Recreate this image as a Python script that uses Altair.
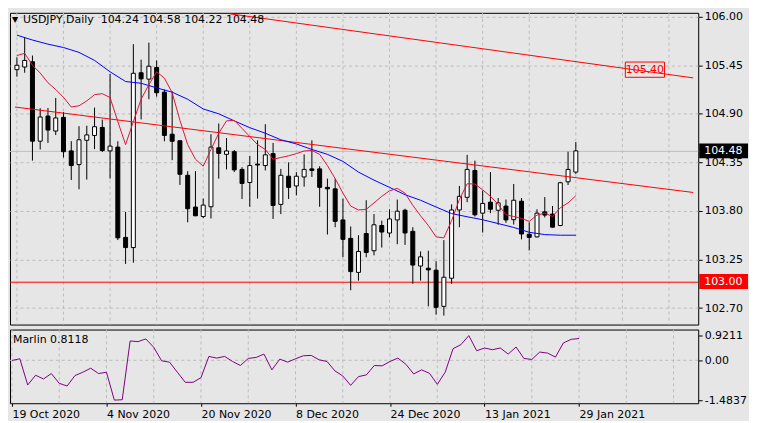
import altair as alt
import pandas as pd

# ---------------- data ----------------
opens = [105.40, 105.43, 105.49, 104.59, 104.875, 104.705, 104.86, 104.48, 104.325, 104.60,
         104.655, 104.746, 104.48, 104.523, 103.50, 103.385, 105.365, 105.293, 105.425, 105.145,
         104.669, 104.595, 104.204, 103.844, 103.737, 103.847, 104.515, 104.441, 104.471, 104.27,
         104.122, 104.33, 104.314, 104.449, 103.874, 104.193, 104.083, 104.185, 104.276, 104.276,
         104.067, 104.05, 103.698, 103.489, 103.104, 103.544, 103.349, 103.635, 103.55, 103.698,
         103.808, 103.569, 103.176, 103.151, 103.129, 102.719, 103.038, 103.811, 103.954, 104.259,
         103.775, 103.899, 103.808, 103.855, 103.701, 103.91, 103.536, 103.506, 103.789, 103.764,
         103.635, 104.13, 104.24]
highs = [105.54, 105.76, 105.56, 104.963, 104.966, 105.08, 104.92, 104.59, 104.76, 104.765,
         104.97, 104.834, 105.35, 104.589, 103.79, 105.689, 105.513, 105.706, 105.505, 105.175,
         105.156, 104.60, 104.251, 104.251, 103.94, 104.669, 104.79, 104.625, 104.49, 104.295,
         104.424, 104.60, 104.782, 104.57, 104.276, 104.35, 104.24, 104.441, 104.60, 104.306,
         104.166, 104.166, 103.94, 103.624, 103.525, 103.921, 103.764, 103.69, 103.819, 103.929,
         103.825, 103.616, 103.341, 103.349, 103.231, 103.47, 103.874, 104.083, 104.435, 104.369,
         104.031, 104.24, 103.946, 103.929, 104.105, 103.946, 103.671, 103.819, 103.957, 103.855,
         104.13, 104.471, 104.58]
lows = [105.32, 105.365, 104.37, 104.496, 104.57, 104.66, 104.405, 104.15, 104.045, 104.155,
        104.50, 104.468, 104.166, 103.47, 103.20, 103.214, 104.837, 105.065, 105.095, 104.589,
        104.375, 104.094, 103.671, 103.74, 103.72, 103.715, 104.166, 104.27, 104.24, 103.935,
        103.847, 103.94, 104.259, 103.709, 103.764, 103.935, 103.976, 104.075, 104.185, 103.847,
        103.533, 103.616, 103.275, 102.901, 103.011, 103.275, 103.297, 103.385, 103.50, 103.423,
        103.415, 102.975, 103.011, 102.719, 102.626, 102.615, 102.975, 103.616, 103.899, 103.737,
        103.555, 103.775, 103.643, 103.665, 103.646, 103.478, 103.352, 103.50, 103.726, 103.61,
        103.627, 104.094, 104.22]
closes = [105.45, 105.505, 104.59, 104.864, 104.716, 104.853, 104.471, 104.314, 104.606, 104.661,
          104.754, 104.485, 104.534, 103.495, 103.385, 105.359, 105.296, 105.439, 105.139, 104.655,
          104.589, 104.215, 103.825, 103.745, 103.866, 104.523, 104.452, 104.479, 104.265, 104.111,
          104.314, 104.32, 104.435, 103.862, 104.204, 104.067, 104.193, 104.27, 104.259, 104.067,
          104.05, 103.682, 103.478, 103.113, 103.341, 103.33, 103.643, 103.561, 103.709, 103.797,
          103.55, 103.187, 103.28, 103.132, 102.708, 103.049, 103.811, 103.965, 104.27, 103.756,
          103.885, 103.819, 103.891, 103.698, 103.921, 103.539, 103.50, 103.775, 103.753, 103.616,
          104.119, 104.27, 104.48]
ma_red = [105.56, 105.585, 105.45, 105.362, 105.252, 105.175, 105.087, 104.977, 104.991, 105.046,
          105.117, 105.128, 105.084, 104.812, 104.551, 104.812, 105.065, 105.23, 105.376, 105.304,
          105.139, 104.826, 104.551, 104.386, 104.306, 104.496, 104.68, 104.82, 104.826, 104.735,
          104.643, 104.551, 104.496, 104.386, 104.405, 104.424, 104.449, 104.479, 104.485, 104.441,
          104.314, 104.166, 104.001, 103.855, 103.811, 103.818, 103.891, 103.965, 104.028, 104.056,
          104.001, 103.863, 103.745, 103.635, 103.506, 103.495, 103.69, 103.929, 104.108, 104.105,
          104.039, 103.965, 103.874, 103.756, 103.737, 103.715, 103.682, 103.753, 103.775, 103.737,
          103.836, 103.891, 103.972]
blue_idx = [0, 2, 4, 6, 8, 10, 12, 14, 16, 18, 20, 22, 24, 26, 28, 30, 32, 34, 36,
            38, 40, 42, 44, 46, 48, 50, 52, 54, 56, 58, 60, 62, 64, 66, 68, 70, 72]
blue_val = [105.791, 105.736, 105.689, 105.651, 105.596, 105.505, 105.376, 105.266, 105.246,
            105.194, 105.145, 105.065, 104.955, 104.90, 104.82, 104.743, 104.68, 104.606, 104.559,
            104.496, 104.441, 104.361, 104.24, 104.149, 104.067, 103.984, 103.921, 103.844, 103.77,
            103.734, 103.70, 103.657, 103.613, 103.558, 103.532, 103.525, 103.525]
marlin = [-0.006, 0.057, -0.920, -0.557, -0.695, -0.494, -0.857, -0.958, -0.569, -0.444,
          -0.294, -0.494, -0.444, -1.4837, -1.47, 0.721, 0.696, 0.796, 0.483, -0.018,
          -0.068, -0.444, -0.820, -0.820, -0.645, 0.145, 0.082, 0.145, -0.043, -0.194,
          0.069, 0.107, 0.232, -0.357, 0.044, -0.068, 0.057, 0.170, 0.182, 0.019,
          -0.043, -0.394, -0.582, -0.933, -0.607, -0.544, -0.194, -0.206, -0.043, 0.082,
          -0.144, -0.507, -0.357, -0.482, -0.895, -0.444, 0.433, 0.583, 0.9211, 0.357,
          0.458, 0.395, 0.458, 0.232, 0.495, 0.069, 0.032, 0.307, 0.270, 0.119,
          0.645, 0.783, 0.8118]
date_ticks = [0, 12, 24, 36, 48, 60, 72]
date_labels = ["19 Oct 2020", "4 Nov 2020", "20 Nov 2020", "8 Dec 2020",
               "24 Dec 2020", "13 Jan 2021", "29 Jan 2021"]
price_ticks = [106.00, 105.45, 104.90, 104.35, 103.80, 103.25, 102.70]
marlin_ticks = [0.9211, 0.0, -1.4837]
vgrid_idx = [0, 6, 12, 18, 24, 30, 36, 42, 48, 54, 60, 66, 72, 78, 84]
upper_trend_idx = [27.4, 87.125]
upper_trend_val = [106.033, 105.307]
lower_trend_idx = [-0.25, 87.125]
lower_trend_val = [104.977, 104.009]
support_level = 103.00
target_level = 105.40
target_idx = 80.9
symbol = "USDJPY,Daily"
indicator = "Marlin"

# ---------------- layout / style ----------------
W, H1, H2 = 691, 313, 74
FONT = "DejaVu Sans"
BG = "#e6e6e6"
GRID = "#bbbbbb"
xs = alt.Scale(domain=[-0.25, 87.125], nice=False, zero=False)
ys = alt.Scale(domain=[102.513, 106.044], nice=False, zero=False)
ms = alt.Scale(domain=[-1.60, 1.147], nice=False, zero=False)

yaxis = alt.Axis(orient="right", values=price_ticks, format=".2f", title=None, grid=True,
                 gridDash=[3, 3], gridColor=GRID, domain=False, ticks=True, tickSize=4,
                 tickColor="black", labelFont=FONT, labelFontSize=11, labelColor="black",
                 labelPadding=2, labelBound=False, labelFlush=False, labelOverlap=False)

date_expr = "''"
for t, l in reversed(list(zip(date_ticks, date_labels))):
    date_expr = f"datum.value == {t} ? '{l}' : ({date_expr})"
xaxis = alt.Axis(values=date_ticks, labelExpr=date_expr, title=None, grid=False, domain=False,
                 ticks=True, tickSize=3, tickColor="black", labelAlign="left", labelFont=FONT,
                 labelFontSize=11, labelColor="black", labelPadding=2, labelFlush=False,
                 labelBound=False, labelOverlap=False)
maxis = alt.Axis(orient="right", values=marlin_ticks,
                 labelExpr="datum.value == 0 ? '0.00' : '' + datum.value", title=None,
                 grid=False, domain=False, ticks=True, tickSize=4, tickColor="black",
                 labelFont=FONT, labelFontSize=11, labelColor="black", labelPadding=2,
                 labelBound=False, labelFlush=False, labelOverlap=False)


def Xm(f):
    return alt.X(f, type="quantitative", scale=xs, axis=None)


def Ym(f):
    return alt.Y(f, type="quantitative", scale=ys, axis=yaxis)


def Xs(f):
    return alt.X(f, type="quantitative", scale=xs, axis=xaxis)


def Ys(f):
    return alt.Y(f, type="quantitative", scale=ms, axis=maxis)


BOX = "M-1,-0.306L1,-0.306L1,0.306L-1,0.306Z"
BOX2 = "M-1,-0.389L1,-0.389L1,0.389L-1,0.389Z"

idx = list(range(len(closes)))
cdf = pd.DataFrame({"i": idx, "open": opens, "high": highs, "low": lows, "close": closes})
rdf = pd.DataFrame({"i": idx, "v": ma_red})
bdf = pd.DataFrame({"i": blue_idx, "v": blue_val})
tdf = pd.DataFrame({"i": upper_trend_idx + lower_trend_idx,
                    "v": upper_trend_val + lower_trend_val,
                    "g": ["u", "u", "l", "l"]})
gdf = pd.DataFrame({"i": vgrid_idx})
bid = closes[-1]
title_txt = f"{symbol}\u00a0\u00a0{opens[-1]:.2f} {highs[-1]:.2f} {lows[-1]:.2f} {closes[-1]:.2f}"

vgrid = alt.Chart(gdf).mark_rule(color=GRID, strokeDash=[3, 3], strokeWidth=1).encode(x=Xm("i"))
bidline = alt.Chart(pd.DataFrame({"v": [bid]})).mark_rule(
    color="#c0c0c0", strokeWidth=1, yOffset=0.5).encode(y=Ym("v"))
level = alt.Chart(pd.DataFrame({"v": [support_level]})).mark_rule(
    color="#ff0000", strokeWidth=1, yOffset=0.67).encode(y=Ym("v"))
wick = alt.Chart(cdf).mark_rule(color="black", strokeWidth=1).encode(x=Xm("i"), y=Ym("low"), y2="high")
body = alt.Chart(cdf).mark_bar(size=4, stroke="black", strokeWidth=1).encode(
    x=Xm("i"), y=Ym("open"), y2="close",
    fill=alt.condition("datum.close >= datum.open", alt.value("white"), alt.value("black")))
blue = alt.Chart(bdf).mark_line(color="#0000ff", strokeWidth=1).encode(x=Xm("i"), y=Ym("v"))
red = alt.Chart(rdf).mark_line(color="#dc143c", strokeWidth=1).encode(x=Xm("i"), y=Ym("v"))
trends = alt.Chart(tdf).mark_line(color="#ff0000", strokeWidth=1, clip=True).encode(
    x=Xm("i"), y=Ym("v"), detail="g:N")

tgt = pd.DataFrame({"i": [target_idx], "v": [target_level], "t": [f"{target_level:.2f}"]})
tgt_box = alt.Chart(tgt).mark_point(shape=BOX2, size=1545, filled=False, stroke="#ff0000",
                                    strokeWidth=1, opacity=1).encode(x=Xm("i"), y=Ym("v"))
tgt_text = alt.Chart(tgt).mark_text(font=FONT, fontSize=11, color="#ff0000", align="center",
                                    baseline="middle").encode(x=Xm("i"), y=Ym("v"), text="t:N")

sup = pd.DataFrame({"v": [support_level], "t": [f"{support_level:.2f}"]})
sup_box = alt.Chart(sup).mark_point(shape=BOX, size=49 ** 2, filled=True, color="#ff0000",
                                    opacity=1).encode(x=alt.value(W + 25.5), y=Ym("v"))
sup_text = alt.Chart(sup).mark_text(font=FONT, fontSize=11, color="white", align="left",
                                    baseline="middle").encode(x=alt.value(W + 6), y=Ym("v"), text="t:N")
bd = pd.DataFrame({"v": [bid], "t": [f"{bid:.2f}"]})
bid_box = alt.Chart(bd).mark_point(shape=BOX, size=49 ** 2, filled=True, color="black",
                                   opacity=1).encode(x=alt.value(W + 25.5), y=Ym("v"))
bid_text = alt.Chart(bd).mark_text(font=FONT, fontSize=11, color="white", align="left",
                                   baseline="middle").encode(x=alt.value(W + 6), y=Ym("v"), text="t:N")

title = alt.Chart(pd.DataFrame({"t": [title_txt]})).mark_text(
    font=FONT, fontSize=11, color="black", align="left", baseline="middle").encode(
    x=alt.value(13), y=alt.value(7), text="t:N")
tri = alt.Chart(pd.DataFrame({"t": ["\u25bc"]})).mark_text(
    font=FONT, fontSize=8, color="black", align="center", baseline="middle").encode(
    x=alt.value(5), y=alt.value(7), text="t:N")

main = alt.layer(vgrid, bidline, level, wick, body, trends, blue, red,
                 tgt_box, tgt_text, sup_box, sup_text, bid_box, bid_text, tri, title
                 ).properties(width=W, height=H1)

mdf = pd.DataFrame({"i": idx, "v": marlin})
sgrid = alt.Chart(gdf).mark_rule(color=GRID, strokeDash=[3, 3], strokeWidth=1).encode(x=Xs("i"))
zero = alt.Chart(pd.DataFrame({"v": [0.0]})).mark_rule(color=GRID, strokeDash=[3, 3], strokeWidth=1).encode(y=Ys("v"))
mline = alt.Chart(mdf).mark_line(color="#800080", strokeWidth=1).encode(x=Xs("i"), y=Ys("v"))
mtitle = alt.Chart(pd.DataFrame({"t": [f"{indicator} {marlin[-1]:.4f}"]})).mark_text(
    font=FONT, fontSize=11, color="black", align="left", baseline="middle").encode(
    x=alt.value(3), y=alt.value(11), text="t:N")
sub = alt.layer(sgrid, zero, mline, mtitle).properties(width=W, height=H2)

chart = alt.vconcat(main, sub, spacing=3).properties(
    background=BG, padding={"left": 1, "top": 1, "right": 0, "bottom": 0}
).configure_view(stroke="black", strokeWidth=1)

chart.save("out.html", embed_options={"renderer": "svg", "actions": False})
